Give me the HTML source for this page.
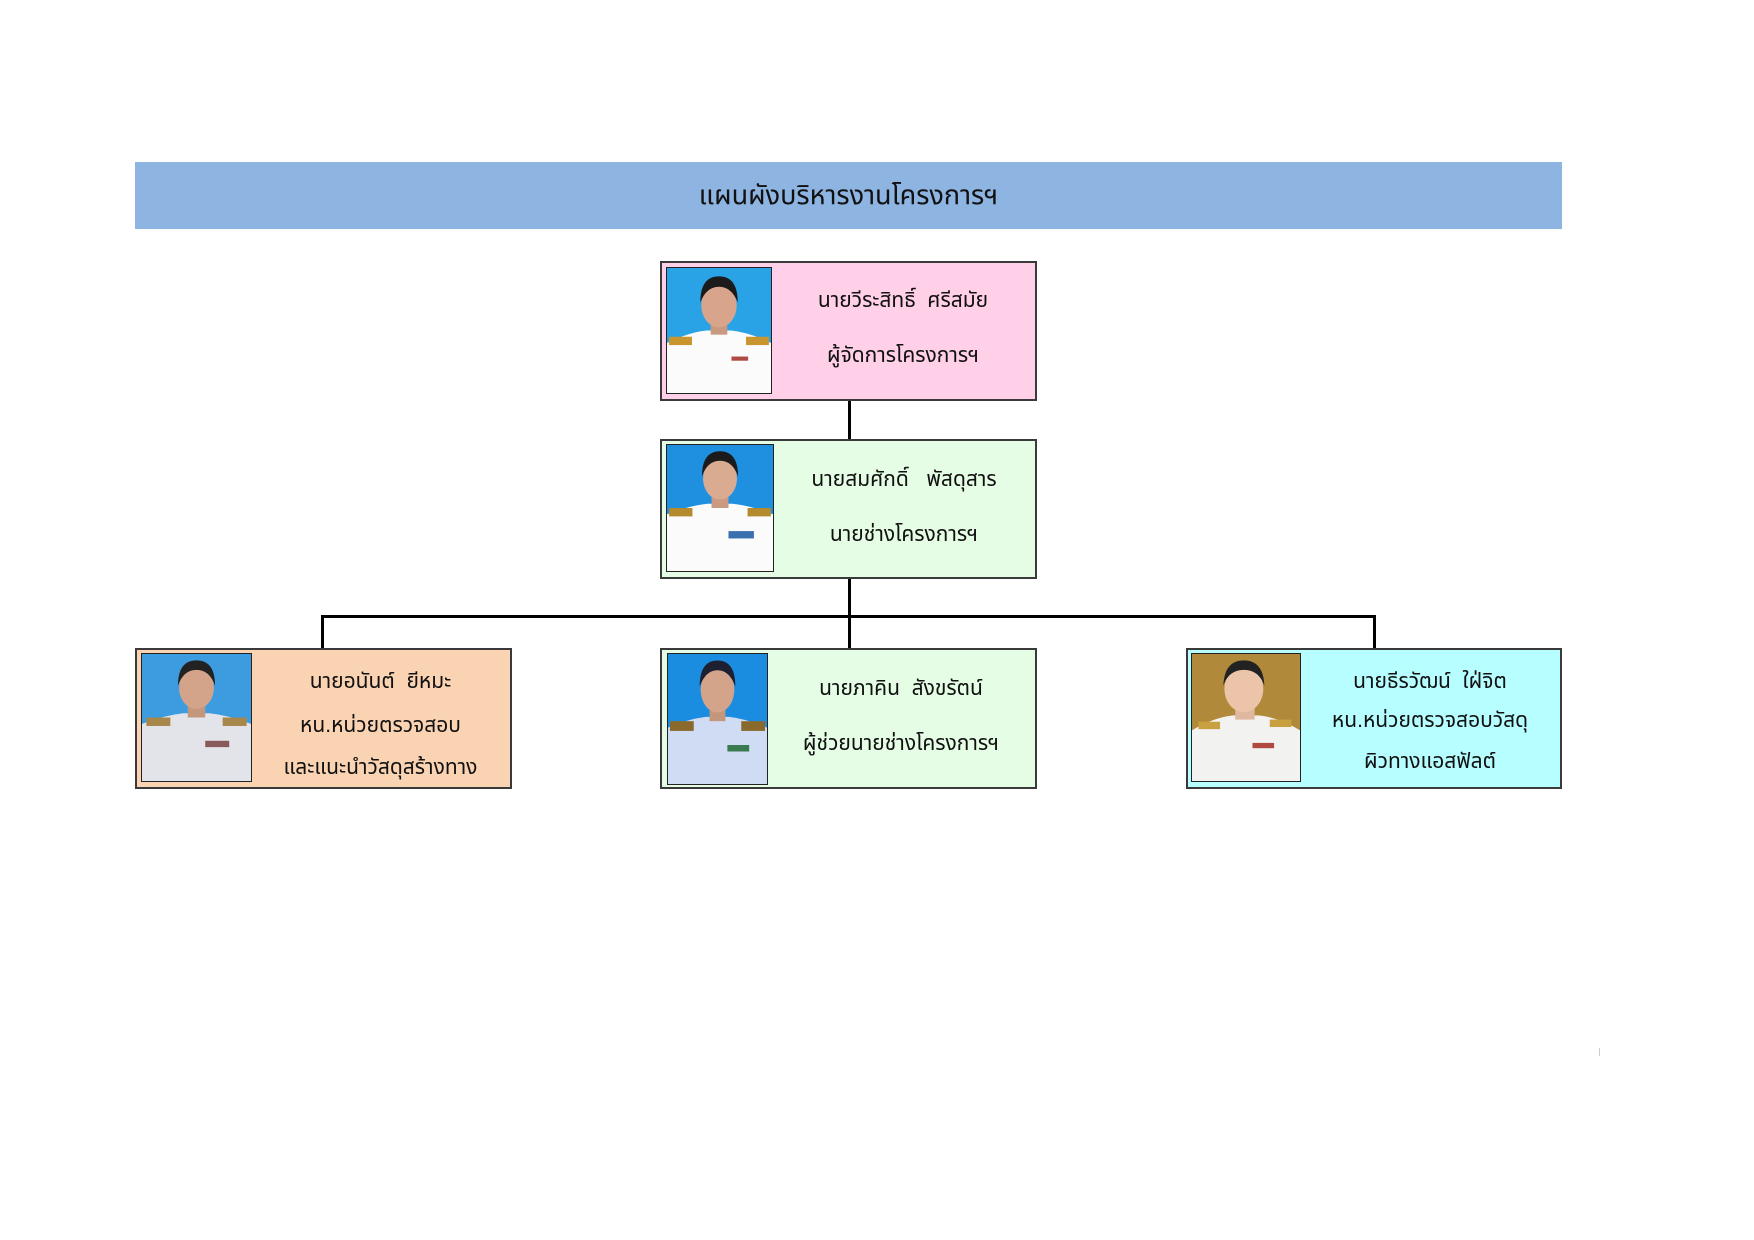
<!DOCTYPE html>
<html><head><meta charset="utf-8">
<style>
html,body{margin:0;padding:0;background:#fff;}
body{width:1754px;height:1240px;position:relative;overflow:hidden;font-family:"Liberation Sans","Noto Sans Thai","Loma","Garuda",sans-serif;}
.abs{position:absolute;box-sizing:border-box;}
.banner{left:135px;top:162px;width:1427px;height:67px;background:#8EB4E1;}
.title{left:135px;top:162px;width:1427px;height:67px;line-height:67px;text-align:center;font-size:27px;color:#111;}
.box{border:2px solid #3a3a3a;}
.ph{border:1.5px solid #222;overflow:hidden;}
.ph svg{display:block;width:100%;height:100%;}
.t{text-align:center;font-size:21px;color:#111;white-space:nowrap;line-height:30px;}
.ln{background:#000;}
</style></head><body>
<div class="abs banner"></div>
<div class="abs title">แผนผังบริหารงานโครงการฯ</div>

<!-- connectors -->
<div class="abs ln" style="left:848px;top:399px;width:3px;height:41px;"></div>
<div class="abs ln" style="left:848px;top:578px;width:3px;height:71px;"></div>
<div class="abs ln" style="left:322px;top:615px;width:1054px;height:3px;"></div>
<div class="abs ln" style="left:321px;top:615px;width:3px;height:34px;"></div>
<div class="abs ln" style="left:1373px;top:615px;width:3px;height:34px;"></div>

<!-- pink -->
<div class="abs box" style="left:660px;top:261px;width:377px;height:140px;background:#FFD0E8;"></div>
<div class="abs ph" style="left:666px;top:267px;width:106px;height:127px;">
<svg viewBox="0 0 100 120" preserveAspectRatio="none"><rect width="100" height="120" fill="#2aa3e6"/><path d="M0 72 Q20 62 38 60 L62 60 Q80 62 100 72 L100 120 L0 120Z" fill="#fbfbfb"/><rect x="42" y="50" width="16" height="14" fill="#c99a80"/><ellipse cx="50" cy="36" rx="17" ry="21" fill="#d8a58c"/><path d="M32 33 Q32 8 50 8 Q68 8 68 33 Q62 18 50 18 Q38 18 32 33Z" fill="#1b1b1b"/><rect x="2" y="66" width="22" height="8" fill="#c9952f"/><rect x="76" y="66" width="22" height="8" fill="#c9952f"/><rect x="62" y="85" width="16" height="4" fill="#b04a40"/></svg></div>
<div class="abs t" style="left:772px;top:286px;width:262px;">นายวีระสิทธิ์&nbsp; ศรีสมัย</div>
<div class="abs t" style="left:772px;top:341px;width:262px;">ผู้จัดการโครงการฯ</div>

<!-- green top -->
<div class="abs box" style="left:660px;top:439px;width:377px;height:140px;background:#E4FDE4;"></div>
<div class="abs ph" style="left:666px;top:444px;width:108px;height:128px;">
<svg viewBox="0 0 100 120" preserveAspectRatio="none"><rect width="100" height="120" fill="#1f8fe0"/><path d="M0 66 Q20 58 38 56 L62 56 Q80 58 100 66 L100 120 L0 120Z" fill="#fbfbfb"/><rect x="42" y="46" width="16" height="14" fill="#c99a80"/><ellipse cx="50" cy="32" rx="16" ry="20" fill="#d9ab90"/><path d="M33 30 Q33 6 50 6 Q67 6 67 30 Q62 15 50 15 Q38 15 33 30Z" fill="#1b1b1b"/><rect x="2" y="60" width="22" height="8" fill="#b58a2c"/><rect x="76" y="60" width="22" height="8" fill="#b58a2c"/><rect x="58" y="82" width="24" height="7" fill="#3b70b0"/></svg></div>
<div class="abs t" style="left:774px;top:465px;width:260px;">นายสมศักดิ์&nbsp;&nbsp; พัสดุสาร</div>
<div class="abs t" style="left:774px;top:520px;width:260px;">นายช่างโครงการฯ</div>

<!-- orange -->
<div class="abs box" style="left:135px;top:648px;width:377px;height:141px;background:#FAD3B2;"></div>
<div class="abs ph" style="left:141px;top:653px;width:111px;height:129px;">
<svg viewBox="0 0 100 120" preserveAspectRatio="none"><rect width="100" height="120" fill="#3d9be0"/><path d="M0 66 Q20 58 38 56 L62 56 Q80 58 100 66 L100 120 L0 120Z" fill="#e2e4ea"/><rect x="42" y="46" width="16" height="14" fill="#c4977d"/><ellipse cx="50" cy="32" rx="16" ry="20" fill="#d3a48a"/><path d="M33 30 Q33 6 50 6 Q67 6 67 30 Q62 15 50 15 Q38 15 33 30Z" fill="#222"/><rect x="4" y="60" width="22" height="8" fill="#a7874a"/><rect x="74" y="60" width="22" height="8" fill="#a7874a"/><rect x="58" y="82" width="22" height="6" fill="#8a5a5a"/></svg></div>
<div class="abs t" style="left:252px;top:667px;width:257px;">นายอนันต์&nbsp; ยีหมะ</div>
<div class="abs t" style="left:252px;top:711px;width:257px;">หน.หน่วยตรวจสอบ</div>
<div class="abs t" style="left:252px;top:753px;width:257px;">และแนะนำวัสดุสร้างทาง</div>

<!-- green bottom -->
<div class="abs box" style="left:660px;top:648px;width:377px;height:141px;background:#E4FDE4;"></div>
<div class="abs ph" style="left:667px;top:653px;width:101px;height:132px;">
<svg viewBox="0 0 100 120" preserveAspectRatio="none"><rect width="100" height="120" fill="#1b8de0"/><path d="M0 68 Q20 60 38 58 L62 58 Q80 60 100 68 L100 120 L0 120Z" fill="#cfdcf4"/><rect x="42" y="48" width="16" height="14" fill="#c4977d"/><ellipse cx="50" cy="33" rx="17" ry="21" fill="#d3a48a"/><path d="M32 30 Q32 6 50 6 Q68 6 68 30 Q62 15 50 15 Q38 15 32 30Z" fill="#1d2030"/><rect x="2" y="62" width="24" height="9" fill="#8a6a2c"/><rect x="74" y="62" width="24" height="9" fill="#8a6a2c"/><rect x="60" y="84" width="22" height="6" fill="#3a7a50"/></svg></div>
<div class="abs t" style="left:768px;top:674px;width:266px;">นายภาคิน&nbsp; สังขรัตน์</div>
<div class="abs t" style="left:768px;top:729px;width:266px;">ผู้ช่วยนายช่างโครงการฯ</div>

<!-- cyan -->
<div class="abs box" style="left:1186px;top:648px;width:376px;height:141px;background:#B6FEFF;"></div>
<div class="abs ph" style="left:1191px;top:653px;width:110px;height:129px;">
<svg viewBox="0 0 100 120" preserveAspectRatio="none"><rect width="100" height="120" fill="#b08a3a"/><path d="M0 72 Q20 60 38 58 L62 58 Q80 60 100 72 L100 120 L0 120Z" fill="#f2f2f0"/><rect x="40" y="48" width="18" height="14" fill="#e0b8a0"/><ellipse cx="48" cy="33" rx="18" ry="22" fill="#ecc4aa"/><path d="M29 30 Q30 6 48 6 Q66 6 67 30 Q62 15 48 15 Q34 15 29 30Z" fill="#222"/><rect x="6" y="64" width="20" height="7" fill="#c9a040"/><rect x="72" y="62" width="20" height="7" fill="#c9a040"/><rect x="56" y="84" width="20" height="5" fill="#b04a40"/></svg></div>
<div class="abs t" style="left:1301px;top:667px;width:258px;">นายธีรวัฒน์&nbsp; ใฝ่จิต</div>
<div class="abs t" style="left:1301px;top:706px;width:258px;">หน.หน่วยตรวจสอบวัสดุ</div>
<div class="abs t" style="left:1301px;top:747px;width:258px;">ผิวทางแอสฟัลต์</div>

<div class="abs" style="left:1599px;top:1048px;width:1px;height:8px;background:#ccc;"></div>
</body></html>
